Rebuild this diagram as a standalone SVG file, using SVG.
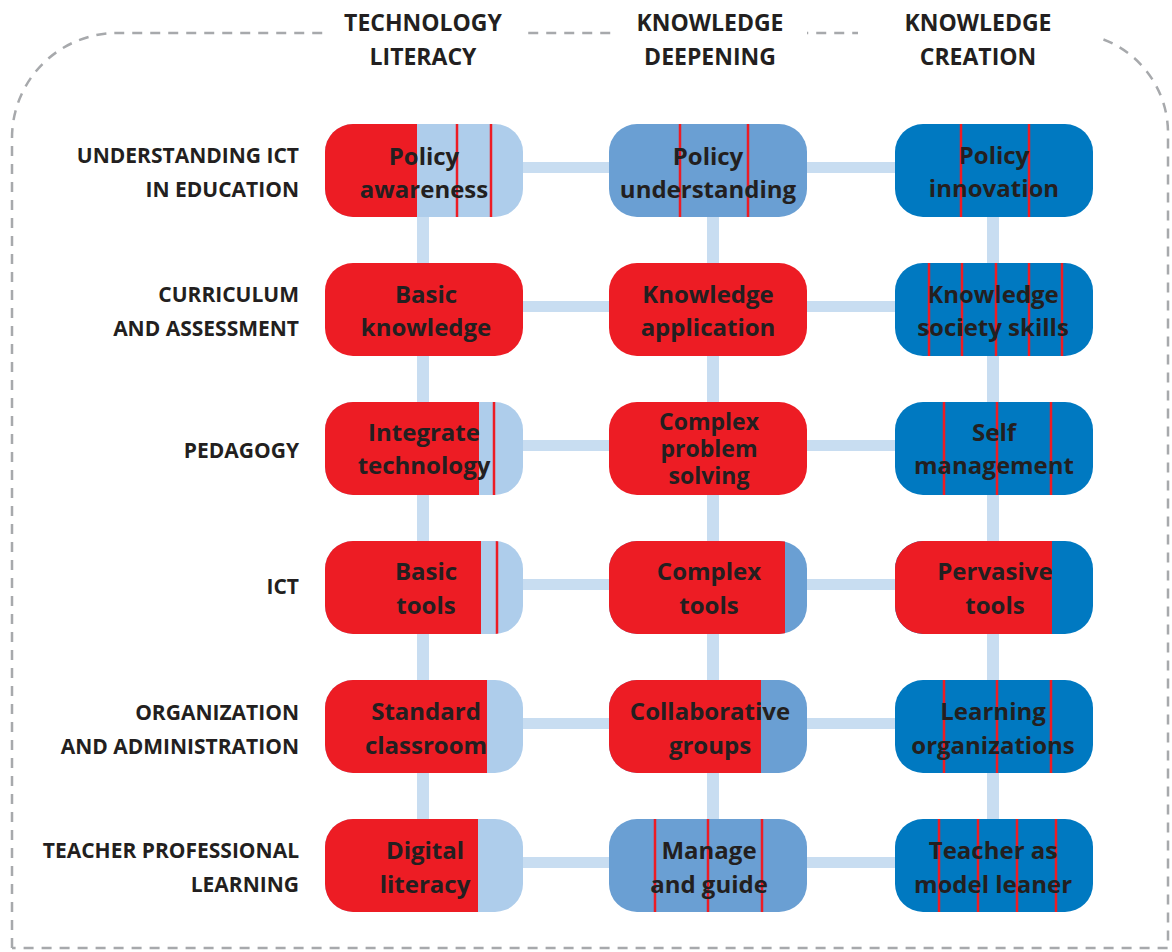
<svg xmlns="http://www.w3.org/2000/svg" width="1172" height="952" viewBox="0 0 1172 952">
<style>
.lb{fill:#aecdeb}.mb{fill:#6a9fd3}.db{fill:#0079c1}.rd{fill:#ed1c24}
.rl{stroke:#ed1c24;stroke-width:2.5}
.cn{fill:#c8ddf1}
.nt{font-family:"Open Sans","Liberation Sans",sans-serif;font-weight:700;font-size:24px;fill:#231f20;text-anchor:middle}
.sm{font-size:23px}
.rlbl{font-family:"Open Sans","Liberation Sans",sans-serif;font-weight:700;font-size:21px;fill:#231f20;text-anchor:end}
.hd{font-family:"Open Sans","Liberation Sans",sans-serif;font-weight:700;font-size:23px;fill:#231f20;text-anchor:middle}
.bd{fill:none;stroke:#a7a9ac;stroke-width:2.5;stroke-dasharray:10 8}
</style>
<defs>
<clipPath id="pill" clipPathUnits="objectBoundingBox"><rect x="0" y="0" width="1" height="1" rx="0.1414" ry="0.301"/></clipPath>
</defs>
<rect width="1172" height="952" fill="#fff"/>
<g id="border">
<path class="bd" d="M12 948 V138 A105 105 0 0 1 117 33 H1068 A100 100 0 0 1 1168 133 V948 H12"/>
<rect x="323" y="10" width="198" height="50" fill="#fff"/>
<rect x="614" y="10" width="193" height="50" fill="#fff"/>
<rect x="858" y="10" width="242" height="50" fill="#fff"/>
</g>
<g id="headers">
<text class="hd" x="423" y="31">TECHNOLOGY</text><text class="hd" x="423" y="65">LITERACY</text>
<text class="hd" x="710" y="31">KNOWLEDGE</text><text class="hd" x="710" y="65">DEEPENING</text>
<text class="hd" x="978" y="31">KNOWLEDGE</text><text class="hd" x="978" y="65">CREATION</text>
</g>
<g id="row-labels">
<text class="rlbl" x="299" y="163">UNDERSTANDING ICT</text><text class="rlbl" x="299" y="197">IN EDUCATION</text>
<text class="rlbl" x="299" y="302">CURRICULUM</text><text class="rlbl" x="299" y="336">AND ASSESSMENT</text>
<text class="rlbl" x="299" y="458">PEDAGOGY</text>
<text class="rlbl" x="299" y="594">ICT</text>
<text class="rlbl" x="299" y="720">ORGANIZATION</text><text class="rlbl" x="299" y="754">AND ADMINISTRATION</text>
<text class="rlbl" x="299" y="858">TEACHER PROFESSIONAL</text><text class="rlbl" x="299" y="892">LEARNING</text>
</g>
<g id="connectors">
<rect class="cn" x="417" y="170" width="12" height="696"/>
<rect class="cn" x="707" y="170" width="12" height="696"/>
<rect class="cn" x="987" y="170" width="12" height="696"/>
<rect class="cn" x="424" y="162" width="570" height="11"/>
<rect class="cn" x="424" y="301" width="570" height="11"/>
<rect class="cn" x="424" y="440" width="570" height="11"/>
<rect class="cn" x="424" y="579" width="570" height="11"/>
<rect class="cn" x="424" y="718" width="570" height="11"/>
<rect class="cn" x="424" y="857" width="570" height="11"/>
</g>
<g id="n11"><g clip-path="url(#pill)"><rect class="lb" x="325" y="124" width="198" height="93"/><rect class="rd" x="325" y="124" width="92" height="93"/><path class="rl" d="M457 124V217M491 124V217"/></g><text class="nt" x="424" y="165">Policy</text><text class="nt" x="424" y="198">awareness</text></g>
<g id="n12"><g clip-path="url(#pill)"><rect class="mb" x="609" y="124" width="198" height="93"/><path class="rl" d="M680 124V217M748 124V217"/></g><text class="nt" x="708" y="165">Policy</text><text class="nt" x="708" y="198">understanding</text></g>
<g id="n13"><g clip-path="url(#pill)"><rect class="db" x="895" y="124" width="198" height="93"/><path class="rl" d="M961 124V217M1029 124V217"/></g><text class="nt" x="994" y="164">Policy</text><text class="nt" x="994" y="197">innovation</text></g>
<g id="n21"><g clip-path="url(#pill)"><rect class="rd" x="325" y="263" width="198" height="93"/></g><text class="nt" x="426" y="303">Basic</text><text class="nt" x="426" y="336">knowledge</text></g>
<g id="n22"><g clip-path="url(#pill)"><rect class="rd" x="609" y="263" width="198" height="93"/></g><text class="nt" x="708" y="303">Knowledge</text><text class="nt" x="708" y="336">application</text></g>
<g id="n23"><g clip-path="url(#pill)"><rect class="db" x="895" y="263" width="198" height="93"/><path class="rl" d="M929 263V356M962 263V356M996 263V356M1029 263V356M1062 263V356"/></g><text class="nt" x="993" y="303">Knowledge</text><text class="nt" x="993" y="336">society skills</text></g>
<g id="n31"><g clip-path="url(#pill)"><rect class="lb" x="325" y="402" width="198" height="93"/><rect class="rd" x="325" y="402" width="154" height="93"/><path class="rl" d="M494 402V495"/></g><text class="nt" x="424" y="441">Integrate</text><text class="nt" x="424" y="474">technology</text></g>
<g id="n32"><g clip-path="url(#pill)"><rect class="rd" x="609" y="402" width="198" height="93"/></g><text class="nt sm" x="709" y="430">Complex</text><text class="nt sm" x="709" y="457">problem</text><text class="nt sm" x="709" y="484">solving</text></g>
<g id="n33"><g clip-path="url(#pill)"><rect class="db" x="895" y="402" width="198" height="93"/><path class="rl" d="M944 402V495M997 402V495M1051 402V495"/></g><text class="nt" x="994" y="441">Self</text><text class="nt" x="994" y="474">management</text></g>
<g id="n41"><g clip-path="url(#pill)"><rect class="lb" x="325" y="541" width="198" height="93"/><rect class="rd" x="325" y="541" width="156" height="93"/><path class="rl" d="M497 541V634"/></g><text class="nt" x="426" y="580">Basic</text><text class="nt" x="426" y="614">tools</text></g>
<g id="n42"><g clip-path="url(#pill)"><rect class="mb" x="609" y="541" width="198" height="93"/><rect class="rd" x="609" y="541" width="176" height="93"/></g><text class="nt" x="709" y="580">Complex</text><text class="nt" x="709" y="614">tools</text></g>
<g id="n43"><g clip-path="url(#pill)"><rect class="db" x="895" y="541" width="198" height="93"/><rect class="rd" x="895" y="541" width="157" height="93"/></g><text class="nt" x="995" y="580">Pervasive</text><text class="nt" x="995" y="614">tools</text></g>
<g id="n51"><g clip-path="url(#pill)"><rect class="lb" x="325" y="680" width="198" height="93"/><rect class="rd" x="325" y="680" width="162" height="93"/></g><text class="nt" x="426" y="720">Standard</text><text class="nt" x="426" y="754">classroom</text></g>
<g id="n52"><g clip-path="url(#pill)"><rect class="mb" x="609" y="680" width="198" height="93"/><rect class="rd" x="609" y="680" width="152" height="93"/></g><text class="nt" x="710" y="720">Collaborative</text><text class="nt" x="710" y="754">groups</text></g>
<g id="n53"><g clip-path="url(#pill)"><rect class="db" x="895" y="680" width="198" height="93"/><path class="rl" d="M944 680V773M997 680V773M1051 680V773"/></g><text class="nt" x="993" y="720">Learning</text><text class="nt" x="993" y="754">organizations</text></g>
<g id="n61"><g clip-path="url(#pill)"><rect class="lb" x="325" y="819" width="198" height="93"/><rect class="rd" x="325" y="819" width="153" height="93"/></g><text class="nt" x="425" y="859">Digital</text><text class="nt" x="425" y="893">literacy</text></g>
<g id="n62"><g clip-path="url(#pill)"><rect class="mb" x="609" y="819" width="198" height="93"/><path class="rl" d="M655 819V912M708 819V912M762 819V912"/></g><text class="nt" x="709" y="859">Manage</text><text class="nt" x="709" y="893">and guide</text></g>
<g id="n63"><g clip-path="url(#pill)"><rect class="db" x="895" y="819" width="198" height="93"/><path class="rl" d="M939 819V912M978 819V912M1017 819V912M1056 819V912"/></g><text class="nt" x="993" y="859">Teacher as</text><text class="nt" x="993" y="893">model leaner</text></g>
</svg>
